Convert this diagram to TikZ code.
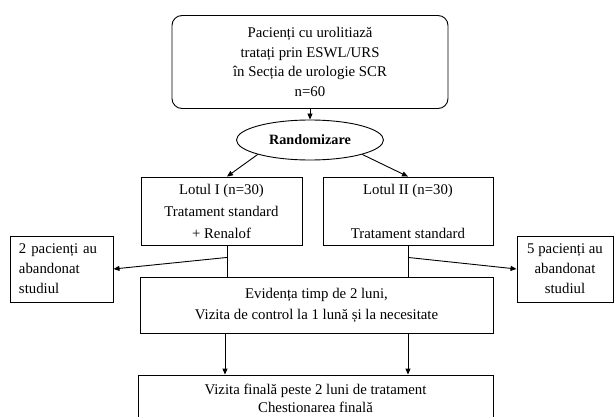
\documentclass[tikz,border=0pt]{standalone}
\usepackage{fontspec}
\setmainfont{Liberation Serif}
\usetikzlibrary{shapes.geometric,arrows.meta,calc}
\begin{document}
\begin{tikzpicture}[x=1pt,y=-1pt,
  box/.style={draw,line width=0.9pt,align=center,inner sep=0pt,font=\fontsize{14.8}{21}\selectfont},
  arr/.style={line width=0.9pt,-{Triangle[length=6pt,width=5pt]}},
  ln/.style={line width=0.9pt}]
\clip (0,0) rectangle (616,417);
\node[box,rounded corners=10pt,minimum width=276pt,minimum height=93pt,font=\fontsize{14.8}{19.5}\selectfont] (top) at (310,62)
  {Pacienți cu urolitiază\\tratați prin ESWL/URS\\în Secția de urologie SCR\\n=60};
\node[box,ellipse,minimum width=147pt,minimum height=40pt,font=\fontsize{14.2}{20}\selectfont\bfseries] (rand) at (310,140) {Randomizare};
\node[box,minimum width=161pt,minimum height=68pt,font=\fontsize{14.8}{22}\selectfont] (lot1) at (221.5,211)
  {Lotul I (n=30)\\Tratament standard\\+ Renalof};
\node[box,minimum width=170pt,minimum height=68pt,font=\fontsize{14.8}{22}\selectfont] (lot2) at (408,211)
  {Lotul II (n=30)\\~\\Tratament standard};
\node[box,align=left,text width=85pt,minimum width=103pt,minimum height=66pt,font=\fontsize{14.8}{20}\selectfont] (left) at (61.5,269)
  {2 pacienți au\\abandonat\\studiul};
\node[box,minimum width=96pt,minimum height=66pt,font=\fontsize{14.8}{20}\selectfont] (right) at (565,269)
  {5 pacienți au\\abandonat\\studiul};
\node[box,minimum width=353pt,minimum height=56pt] (evid) at (316.5,305)
  {Evidența timp de 2 luni,\\Vizita de control la 1 lună și la necesitate};
\node[box,minimum width=355pt,minimum height=47pt,font=\fontsize{14.8}{18.5}\selectfont] (final) at (315.5,398.5)
  {Vizita finală peste 2 luni de tratament\\Chestionarea finală};
\draw[arr] (top.south) -- (rand.north);
\draw[arr] (rand.south west) -- ($(lot1.north)+(5.5,0)$);
\draw[arr] (rand.south east) -- (lot2.north);
\coordinate (j1) at ($(lot1.south)+(5.5,0)$);
\draw[ln] (j1) -- (j1 |- evid.north);
\draw[arr] ($(j1)+(0,12)$) -- (left.east);
\draw[ln] (lot2.south) -- (lot2.south |- evid.north);
\draw[arr] ($(lot2.south)+(0,12)$) -- (right.west);
\coordinate (e1) at ($(evid.south)+(-91.5,0)$);
\draw[arr] (e1) -- (e1 |- final.north);
\draw[arr] (evid.south -| lot2.south) -- (final.north -| lot2.south);
\end{tikzpicture}
\end{document}
